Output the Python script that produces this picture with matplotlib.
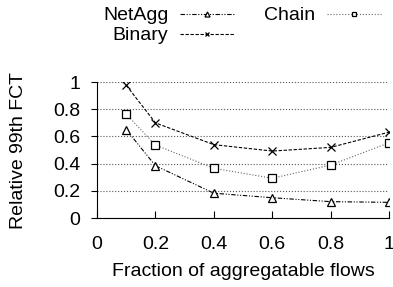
import matplotlib
matplotlib.use("Agg")
import matplotlib.pyplot as plt

x = [0.1, 0.2, 0.4, 0.6, 0.8, 1.0]
netagg = [0.65, 0.385, 0.183, 0.15, 0.121, 0.116]
binary = [0.976, 0.70, 0.54, 0.493, 0.52, 0.632]
chain = [0.763, 0.537, 0.366, 0.293, 0.39, 0.554]

plt.rcParams['font.family'] = ['Liberation Sans', 'DejaVu Sans']
fig = plt.figure(figsize=(3.93, 2.87), dpi=100)
ax = fig.add_axes([0.247, 0.240, 0.743, 0.474])

l1, = ax.plot(x, netagg, color='black', lw=0.8, dashes=[4, 1.5, 1, 1.5, 1, 1.5],
              marker='^', ms=6, mfc='white', mec='black', mew=0.9, label='NetAgg')
l2, = ax.plot(x, binary, color='black', lw=0.8, dashes=[3, 1.5],
              marker='x', ms=6, mec='black', mew=0.9, label='Binary')
l3, = ax.plot(x, chain, color='#666666', lw=0.8, ls=':',
              marker='s', ms=6, mfc='white', mec='black', mew=0.9, label='Chain')

ax.set_xlim(0, 1)
ax.set_ylim(0, 1)
ax.set_xticks([0, 0.2, 0.4, 0.6, 0.8, 1])
ax.set_xticklabels(['0', '0.2', '0.4', '0.6', '0.8', '1'])
ax.set_yticks([0, 0.2, 0.4, 0.6, 0.8, 1])
ax.set_yticklabels(['0', '0.2', '0.4', '0.6', '0.8', '1'])
ax.tick_params(axis='x', direction='in', length=5, labelsize=14, pad=13)
ax.tick_params(axis='y', direction='out', length=4, labelsize=14, pad=8)
ax.yaxis.grid(True, ls=':', color='#555555', lw=0.8)
ax.set_axisbelow(True)
for s in ['top', 'right']:
    ax.spines[s].set_visible(False)
ax.spines['left'].set_linewidth(0.8)
ax.spines['bottom'].set_linewidth(0.8)

ax.set_xlabel('Fraction of aggregatable flows', fontsize=14, labelpad=7)
ax.set_ylabel('Relative 99th FCT', fontsize=14, labelpad=19)

leg = fig.legend(handles=[l1, l2, l3], ncol=2, markerfirst=False, frameon=False,
                 fontsize=14, loc='upper center', bbox_to_anchor=(242 / 393, 1.0),
                 handlelength=2.8, columnspacing=1.5, labelspacing=0.12,
                 handletextpad=0.6, borderaxespad=0.2, borderpad=0.15,
                 markerscale=0.6)

fig.savefig('out.png', dpi=100)
